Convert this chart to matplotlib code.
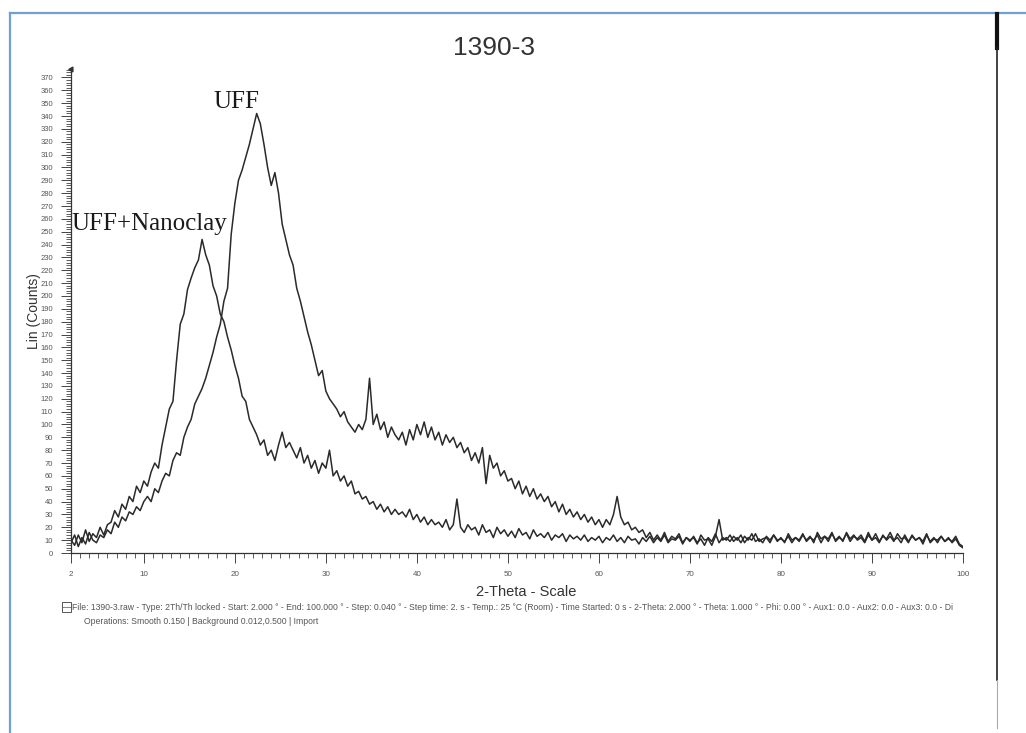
import numpy as np
import matplotlib
import matplotlib.pyplot as plt
from matplotlib.lines import Line2D
from matplotlib.patches import Rectangle

# 2-theta grid (deg), one point every 0.4 deg from 2 to 100
two_theta = np.round(np.arange(2.0, 100.0001, 0.4), 1)

# Lin (Counts), UFF + nanoclay
counts_nanoclay = [
    10, 6, 14, 8, 18, 9, 15, 12, 20, 14, 22,
    24, 33, 28, 38, 34, 44, 40, 52, 47, 56,
    52, 63, 70, 66, 84, 98, 112, 118, 150, 178,
    186, 205, 214, 222, 228, 244, 232, 224, 208, 200,
    186, 180, 168, 158, 146, 136, 122, 118, 104, 98,
    92, 84, 88, 76, 80, 72, 84, 94, 82, 86,
    80, 74, 82, 70, 76, 66, 72, 62, 70, 66,
    80, 60, 64, 56, 60, 52, 56, 46, 48, 42,
    44, 38, 40, 34, 38, 32, 36, 30, 34, 30,
    32, 28, 34, 26, 30, 24, 28, 22, 26, 22,
    24, 20, 26, 18, 22, 42, 20, 16, 22, 18,
    20, 14, 22, 16, 18, 12, 20, 15, 18, 13,
    17, 12, 19, 14, 16, 11, 18, 13, 15, 12,
    16, 10, 14, 12, 15, 9, 14, 11, 13, 10,
    14, 9, 12, 10, 13, 8, 12, 10, 14, 9,
    12, 8, 13, 10, 11, 7, 12, 9, 13, 8,
    12, 9, 14, 8, 11, 10, 13, 7, 12, 9,
    13, 8, 11, 6, 12, 9, 15, 8, 12, 10,
    14, 9, 12, 8, 13, 10, 15, 9, 11, 8,
    13, 10, 14, 9, 12, 8, 15, 10, 12, 9,
    14, 10, 13, 8, 16, 11, 13, 9, 15, 10,
    13, 9, 16, 11, 14, 10, 12, 8, 14, 10,
    15, 9, 13, 11, 16, 10, 12, 8, 14, 9,
    13, 10, 12, 7, 14, 9, 12, 8, 13, 9,
    12, 8, 11, 6, 4,
]

# Lin (Counts), neat UFF
counts_uff = [
    8, 14, 5, 12, 7, 16, 10, 8, 14, 12, 18,
    15, 24, 20, 28, 25, 32, 30, 36, 33, 40,
    44, 40, 50, 47, 56, 62, 60, 72, 78, 76,
    90, 98, 104, 116, 122, 128, 136, 146, 156, 168,
    178, 196, 206, 248, 272, 290, 298, 308, 318, 330,
    342, 334, 318, 300, 286, 296, 280, 256, 244, 232,
    224, 206, 196, 184, 172, 162, 150, 138, 142, 126,
    120, 116, 112, 106, 110, 102, 98, 94, 100, 96,
    104, 136, 100, 108, 96, 102, 90, 98, 92, 88,
    94, 84, 96, 88, 100, 92, 102, 90, 98, 88,
    94, 84, 92, 86, 90, 82, 86, 78, 82, 72,
    78, 70, 82, 54, 76, 66, 70, 60, 64, 56,
    58, 50, 56, 46, 52, 44, 50, 42, 46, 40,
    44, 36, 40, 32, 38, 30, 34, 28, 32, 26,
    30, 24, 28, 22, 26, 20, 26, 22, 30, 44,
    28, 22, 24, 18, 20, 16, 18, 12, 16, 10,
    14, 10, 16, 9, 13, 11, 15, 8, 12, 10,
    12, 7, 14, 10, 11, 6, 13, 26, 10, 12,
    9, 13, 10, 14, 8, 12, 10, 15, 9, 11,
    12, 8, 14, 10, 11, 9, 13, 8, 12, 10,
    15, 9, 12, 10, 14, 8, 13, 11, 16, 9,
    12, 10, 15, 9, 13, 11, 14, 9, 16, 10,
    12, 8, 14, 10, 13, 9, 15, 11, 12, 8,
    14, 10, 12, 9, 15, 8, 11, 10, 13, 9,
    11, 9, 13, 7, 5,
]

x_ticks = [2, 10, 20, 30, 40, 50, 60, 70, 80, 90, 100]
y_ticks = list(range(0, 371, 10))

footer_1 = ("File: 1390-3.raw - Type: 2Th/Th locked - Start: 2.000 \u00b0 - End: 100.000 \u00b0 - "
            "Step: 0.040 \u00b0 - Step time: 2. s - Temp.: 25 \u00b0C (Room) - Time Started: 0 s - "
            "2-Theta: 2.000 \u00b0 - Theta: 1.000 \u00b0 - Phi: 0.00 \u00b0 - Aux1: 0.0 - Aux2: 0.0 - "
            "Aux3: 0.0 - Di")
footer_2 = "Operations: Smooth 0.150 | Background 0.012,0.500 | Import"


def px(x, y):
    """pixel position -> figure fraction"""
    return x / 1026, 1 - y / 733


def main() -> None:
    matplotlib.use('Agg')
    plt.rcParams['font.family'] = 'Liberation Sans'

    fig = plt.figure(figsize=(10.26, 7.33), dpi=100)
    ax = fig.add_axes([71 / 1026, 1 - 553 / 733, 892 / 1026, 484.5 / 733])

    ax.plot(two_theta, counts_uff, color='#2a2a2a', lw=1.1)
    ax.plot(two_theta, counts_nanoclay, color='#2a2a2a', lw=1.1)

    ax.set_xlim(2, 100)
    ax.set_ylim(0, 377)
    for side in ('top', 'right'):
        ax.spines[side].set_visible(False)
    for side in ('left', 'bottom'):
        ax.spines[side].set_color('#333333')
        ax.spines[side].set_linewidth(0.9)

    ax.set_xticks(x_ticks)
    ax.set_xticklabels([str(t) for t in x_ticks])
    ax.set_xticks(range(2, 101), minor=True)
    ax.set_yticks(y_ticks)
    ax.set_yticks(range(0, 377, 2), minor=True)
    ax.tick_params(axis='both', which='major', direction='out', length=7,
                   width=0.7, color='#444444', labelsize=5.8, labelcolor='#555555')
    ax.tick_params(axis='both', which='minor', direction='out', length=3.5,
                   width=0.6, color='#444444')
    ax.tick_params(axis='x', which='major', pad=6)
    ax.tick_params(axis='y', which='major', pad=6, labelsize=5.5)

    # little arrow at the top of the count axis
    ax.plot([2], [377], marker=(3, 0, -30), markersize=4, color='#333333', clip_on=False)

    ax.set_xlabel("2-Theta - Scale", fontsize=10.5, color='#333333')
    ax.xaxis.set_label_coords(0.51, -0.066)
    ax.set_ylabel("Lin (Counts)", fontsize=10, color='#333333')
    ax.yaxis.set_label_coords(-0.034, 0.50)

    ax.text(17.6, 346, "UFF", family='Liberation Serif', fontsize=18, color='#1a1a1a')
    ax.text(2.0, 251, "UFF+Nanoclay", family='Liberation Serif', fontsize=18, color='#1a1a1a')

    fig.text(*px(494, 48), "1390-3", fontsize=19, color='#333333', ha='center', va='center')

    # instrument info below the plot
    fig.text(*px(72, 607), footer_1, fontsize=6.25, color='#555555', va='center')
    fig.text(*px(84, 621), footer_2, fontsize=6.25, color='#555555', va='center')
    fig.add_artist(Rectangle(px(62, 612), 9 / 1026, 10 / 733, fill=False,
                             lw=0.7, edgecolor='#555555', transform=fig.transFigure))
    fig.add_artist(Line2D([62 / 1026, 71 / 1026], [1 - 607 / 733, 1 - 607 / 733],
                          lw=0.5, color='#555555', transform=fig.transFigure))

    # page frame
    fig.add_artist(Line2D([10 / 1026, 10 / 1026], [0, 1 - 13 / 733], lw=1.6,
                          color='#6e9fd6', transform=fig.transFigure))
    fig.add_artist(Line2D([10 / 1026, 1], [1 - 13 / 733, 1 - 13 / 733], lw=1.6,
                          color='#6e9fd6', transform=fig.transFigure))
    fig.add_artist(Line2D([997 / 1026, 997 / 1026], [1 - 14 / 733, 1 - 48 / 733], lw=3.0,
                          color='#111111', transform=fig.transFigure))
    fig.add_artist(Line2D([997 / 1026, 997 / 1026], [1 - 48 / 733, 1 - 680 / 733], lw=1.2,
                          color='#222222', transform=fig.transFigure))
    fig.add_artist(Line2D([997 / 1026, 997 / 1026], [1 - 680 / 733, 1 - 728 / 733], lw=0.8,
                          color='#aaaaaa', transform=fig.transFigure))

    fig.savefig("out.png", dpi=100)
    return None


if __name__ == "__main__":
    main()
